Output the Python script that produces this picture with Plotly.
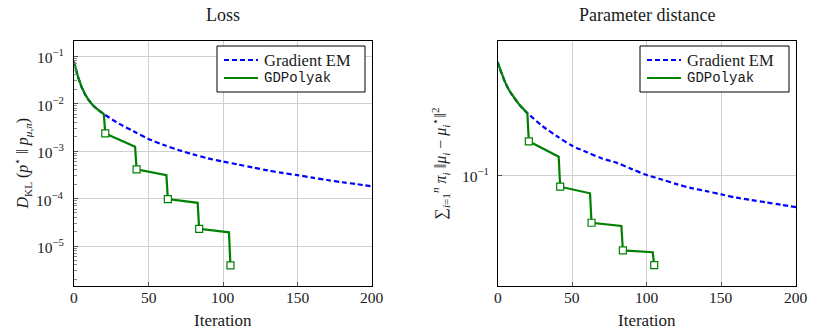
import math
import plotly.graph_objects as go

# ---------------- data ----------------
iters_em = [0, 2.5, 5, 7.5, 10, 12.5, 15, 17.5, 20, 30, 40, 50, 60, 70, 80, 90, 100, 110, 120, 130, 140, 150,
            160, 170, 180, 190, 200]
loss_em = [0.076, 0.038, 0.0226, 0.0155, 0.0117, 0.0093, 0.0079, 0.0068, 0.0060, 0.0038, 0.0026, 0.0018,
           0.00135, 0.00105, 0.00085, 0.00070, 0.00060, 0.00052, 0.00045, 0.00039, 0.000345, 0.00031,
           0.000275, 0.000245, 0.00022, 0.0002, 0.00018]
dist_em = [0.368, 0.3255, 0.292, 0.2674, 0.250, 0.2358, 0.223, 0.2126, 0.204, 0.176, 0.156, 0.140,
           0.130, 0.121, 0.115, 0.107, 0.100, 0.095, 0.090, 0.086, 0.083, 0.080, 0.077, 0.075, 0.073,
           0.071, 0.069]

iters_gdp = [0, 2.5, 5, 7.5, 10, 12.5, 15, 17.5, 20, 21, 41, 42, 62, 63, 83, 84, 104, 105]
loss_gdp = [0.076, 0.038, 0.0226, 0.0155, 0.0117, 0.0093, 0.0079, 0.0068, 0.0060, 0.00234, 0.00123,
            0.00041, 0.00031, 0.000097, 0.000081, 0.000023, 0.0000194, 0.0000039]
dist_gdp = [0.368, 0.3255, 0.292, 0.2674, 0.250, 0.2358, 0.223, 0.2126, 0.204, 0.1474, 0.1235, 0.0874,
            0.0810, 0.0577, 0.0556, 0.0420, 0.0411, 0.0354]

marker_iters = [21, 42, 63, 84, 105]
marker_loss = [0.00234, 0.00041, 0.000097, 0.000023, 0.0000039]
marker_dist = [0.1474, 0.0874, 0.0577, 0.0420, 0.0354]

x_ticks = [0, 50, 100, 150, 200]
loss_ticks = [1e-1, 1e-2, 1e-3, 1e-4, 1e-5]
loss_tick_text = ["10<sup>−1</sup>", "10<sup>−2</sup>", "10<sup>−3</sup>", "10<sup>−4</sup>", "10<sup>−5</sup>"]
dist_ticks = [1e-1]
dist_tick_text = ["10<sup>−1</sup>"]

series_names = ["Gradient EM", "GDPolyak"]

# ---------------- style ----------------
W, H = 814, 332
SERIF = "Liberation Serif"
MONO = "Liberation Mono"
BLUE = "#0000ff"
GREEN = "#008000"
GRID = "#cfcfcf"
TXT = "#1a1a1a"
DASH = "5px,3px"


def px(v):
    return v / W


def py(v):
    return 1 - v / H


fig = go.Figure()

for (xa, ya, em_y, gd_y, mk_y) in [
    ("x", "y", loss_em, loss_gdp, marker_loss),
    ("x2", "y2", dist_em, dist_gdp, marker_dist),
]:
    fig.add_trace(go.Scatter(x=iters_em, y=em_y, mode="lines", name=series_names[0], showlegend=False,
                             line=dict(color=BLUE, width=2.2, dash=DASH, shape="spline", smoothing=0.8),
                             xaxis=xa, yaxis=ya))
    fig.add_trace(go.Scatter(x=iters_gdp, y=gd_y, mode="lines", name=series_names[1], showlegend=False,
                             line=dict(color=GREEN, width=2.2),
                             xaxis=xa, yaxis=ya))
    fig.add_trace(go.Scatter(x=marker_iters, y=mk_y, mode="markers", showlegend=False,
                             marker=dict(symbol="square", size=7, color="white",
                                         line=dict(color=GREEN, width=1.2)),
                             xaxis=xa, yaxis=ya))

axis_common = dict(showline=True, mirror=True, linecolor="black", linewidth=1,
                   showgrid=True, gridcolor=GRID, gridwidth=1, zeroline=False,
                   ticks="inside", ticklen=4, tickcolor="#555", automargin=False,
                   showticklabels=False)

ytop, ybot = py(41), py(286)

fig.update_layout(
    width=W, height=H,
    margin=dict(l=0, r=0, t=0, b=0, autoexpand=False),
    paper_bgcolor="white", plot_bgcolor="white",
    showlegend=False,
    xaxis=dict(domain=[px(74), px(372)], range=[0, 200], tickmode="array", tickvals=x_ticks, anchor="y",
               **axis_common),
    yaxis=dict(domain=[ybot, ytop], type="log", range=[-5.842, -0.684], tickmode="array",
               tickvals=loss_ticks, anchor="x",
               minor=dict(ticks="inside", ticklen=3, tickcolor="#888", showgrid=False,
                          tickvals=[k * 10.0 ** e for e in range(-6, 0) for k in range(2, 10)]),
               **axis_common),
    xaxis2=dict(domain=[px(497.5), px(796)], range=[0, 200], tickmode="array", tickvals=x_ticks, anchor="y2",
                **axis_common),
    yaxis2=dict(domain=[ybot, ytop], type="log", range=[-1.555, -0.33], tickmode="array",
                tickvals=dist_ticks, anchor="x2", **axis_common),
)

annotations = [
    dict(text="Loss", x=px(223), y=py(15), font=dict(size=18)),
    dict(text="Parameter distance", x=px(646.5), y=py(15), font=dict(size=18)),
    dict(text="Iteration", x=px(223), y=py(320), font=dict(size=17)),
    dict(text="Iteration", x=px(646.5), y=py(320), font=dict(size=17)),
    dict(text="<i>D</i><sub>KL</sub> (<i>p</i><sup>⋆</sup> ‖ <i>p</i><sub><i>μ</i>,<i>π</i></sub>)",
         x=px(22), y=py(163.5), textangle=-90, font=dict(size=16)),
    dict(text="∑<sub><i>i</i>=1</sub><sup><i>n</i></sup> <i>π</i><sub><i>i</i></sub> ‖<i>μ</i><sub><i>i</i></sub> − <i>μ</i><sub><i>i</i></sub><sup>⋆</sup>‖<sup>2</sup>",
         x=px(440), y=py(163.5), textangle=-90, font=dict(size=16)),
]
for a in annotations:
    a.update(xref="paper", yref="paper", xanchor="center", yanchor="middle")

# tick labels (drawn as annotations so the serif font is honoured)
for xr in ("x", "x2"):
    for t in x_ticks:
        annotations.append(dict(text=str(t), xref=xr, x=t, yref="paper", y=py(297),
                                xanchor="center", yanchor="middle", font=dict(size=15.5)))
for v, s in zip(loss_ticks, loss_tick_text):
    annotations.append(dict(text=s, xref="paper", x=px(66), yref="y", y=math.log10(v),
                            xanchor="right", yanchor="middle", font=dict(size=15.5)))
for v, s in zip(dist_ticks, dist_tick_text):
    annotations.append(dict(text=s, xref="paper", x=px(491), yref="y2", y=math.log10(v),
                            xanchor="right", yanchor="middle", font=dict(size=15.5)))

# legends (box + sample lines + labels)
shapes = []
for (bx0, bx1) in [(217, 365), (640, 789)]:
    shapes.append(dict(type="rect", xref="paper", yref="paper", x0=px(bx0), x1=px(bx1), y0=py(92), y1=py(46),
                       line=dict(color="black", width=1), fillcolor="white", layer="above"))
    shapes.append(dict(type="line", xref="paper", yref="paper", x0=px(bx0 + 7), x1=px(bx0 + 41),
                       y0=py(60), y1=py(60), line=dict(color=BLUE, width=2.2, dash=DASH), layer="above"))
    shapes.append(dict(type="line", xref="paper", yref="paper", x0=px(bx0 + 7), x1=px(bx0 + 41),
                       y0=py(78), y1=py(78), line=dict(color=GREEN, width=2.2), layer="above"))
    annotations.append(dict(text=series_names[0], xref="paper", yref="paper", x=px(bx0 + 45), y=py(60),
                            xanchor="left", yanchor="middle", font=dict(size=16.5)))
    annotations.append(dict(text=series_names[1], xref="paper", yref="paper", x=px(bx0 + 45), y=py(78),
                            xanchor="left", yanchor="middle", font=dict(size=14, family=MONO)))

for a in annotations:
    a["showarrow"] = False
    f = dict(family=SERIF, color=TXT)
    f.update(a["font"])
    a["font"] = f

fig.update_layout(annotations=annotations, shapes=shapes)

fig.write_html("out.html")
